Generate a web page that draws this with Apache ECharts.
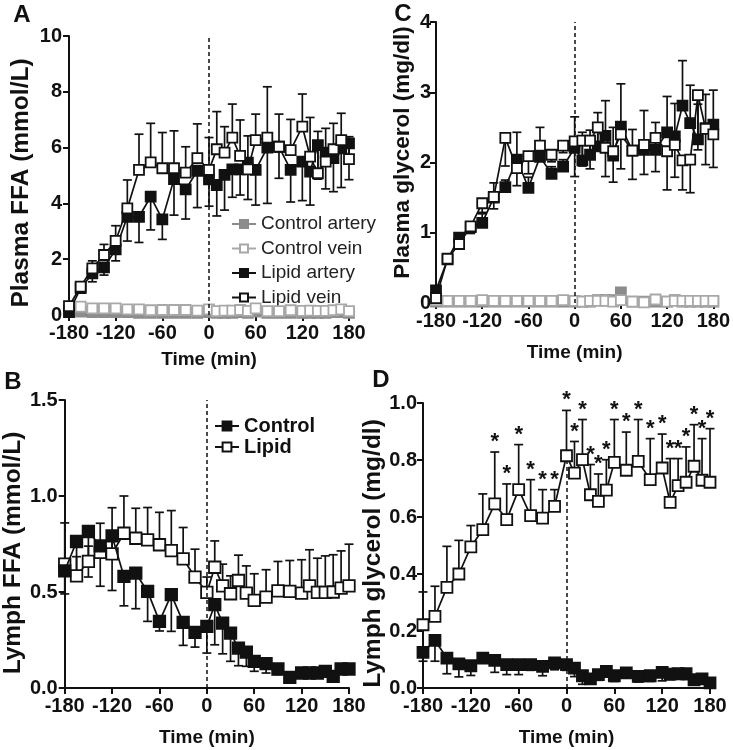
<!DOCTYPE html>
<html><head><meta charset="utf-8">
<script src="https://cdn.jsdelivr.net/npm/echarts@6/dist/echarts.min.js"></script>
<style>html,body{margin:0;padding:0;background:#fff}#c{width:733px;height:750px}</style>
</head><body><div id="c"></div>
<script>
// ---- data ----
const time = [-180,-165,-150,-135,-120,-105,-90,-75,-60,-45,-30,-15,0,10,20,30,40,50,60,75,90,105,120,130,140,150,160,170,180];
const xTicks = [-180,-120,-60,0,60,120,180];

// Panel A: Plasma FFA (mmol/L)
const aCtrlArtery = [0.1,0.12,0.1,0.1,0.1,0.1,0.08,0.08,0.08,0.08,0.08,0.08,0.1,0.08,0.08,0.08,0.1,0.08,0.12,0.08,0.08,0.08,0.08,0.08,0.08,0.08,0.1,0.1,0.08];
const aCtrlVein   = [0.18,0.3,0.24,0.24,0.24,0.2,0.2,0.17,0.18,0.18,0.18,0.16,0.2,0.14,0.16,0.16,0.18,0.15,0.24,0.14,0.14,0.17,0.15,0.16,0.15,0.15,0.17,0.2,0.14];
const aLipArtery  = [0.1,0.96,1.49,1.71,2.35,3.52,3.52,4.24,3.43,4.87,4.5,5.17,4.86,4.66,5.02,5.22,5.22,5.46,5.2,6.0,6.03,5.2,5.5,5.14,6.09,5.82,5.62,5.97,6.15];
const aLipArteryErr = [0,0.05,0.3,0.28,0.41,0.87,0.92,1.19,0.72,1.29,1.06,1.32,0.96,1.11,1.26,1.0,0.92,1.32,1.26,2.0,1.13,1.15,1.4,1.2,1.22,1.3,1.2,1.4,1.3];
const aLipVein    = [0.32,1.02,1.67,2.15,2.66,3.82,5.2,5.47,5.26,5.26,5.1,5.62,5.2,5.94,5.82,6.36,5.7,5.22,6.27,6.36,6.03,5.91,6.75,5.68,5.08,5.5,5.94,6.27,5.59];
const aLipVeinErr = [0.05,0.1,0.27,0.38,0.54,1.02,1.28,1.4,1.28,1.34,0.93,1.23,1.16,1.35,0.93,1.2,1.29,1.2,0.93,1.82,1.17,1.1,1.17,1.4,1.5,1.19,0.93,0.96,0.8];

// Panel C: Plasma glycerol (mg/dl)
const cCtrlArtery = [0.02,0.02,0.02,0.02,0.02,0.02,0.02,0.02,0.02,0.02,0.02,0.02,0.02,0.02,0.02,0.04,0.04,0.04,0.15,0.02,0.02,0.02,0.02,0.04,0.02,0.02,0.02,0.02,0.02];
const cCtrlVein   = [0.04,0.03,0.03,0.03,0.04,0.03,0.03,0.03,0.03,0.03,0.03,0.04,0.03,0.02,0.03,0.03,0.03,0.02,0.04,0.02,0.01,0.05,0.02,0.03,0.03,0.03,0.03,0.03,0.03];
const cLipArtery  = [0.18,0.62,0.93,1.08,1.14,1.5,1.65,2.04,1.64,2.08,1.84,1.94,2.21,2.03,2.11,2.23,2.38,2.1,2.51,2.17,2.18,2.18,2.43,2.37,2.81,2.56,2.33,2.49,2.54];
const cLipArteryErr = [0.05,0.05,0.05,0.07,0.15,0.21,0.1,0.39,0.15,0.42,0.1,0.1,0.44,0.4,0.35,0.48,0.5,0.4,0.61,0.3,0.56,0.39,0.51,0.47,0.64,0.54,0.5,0.48,0.49];
const cLipVein    = [0.07,0.63,0.84,1.09,1.42,1.51,2.35,1.92,2.09,2.24,2.11,2.24,2.3,2.31,2.31,2.5,2.21,2.16,2.4,2.17,2.25,2.35,2.16,2.25,2.03,2.04,2.96,2.48,2.4];
const cLipVeinErr = [0,0.05,0.05,0.1,0.15,0.17,0.4,0.25,0.25,0.2,0.1,0.1,0.5,0.36,0.4,0.3,0.41,0.44,0.49,0.41,0.42,0.48,0.55,0.46,0.42,0.47,0.78,0.51,0.47];

// Panel B: Lymph FFA (mmol/L)
const bControl    = [0.61,0.763,0.815,0.74,0.792,0.581,0.598,0.503,0.347,0.486,0.342,0.29,0.321,0.434,0.338,0.286,0.208,0.187,0.139,0.127,0.099,0.055,0.078,0.078,0.078,0.087,0.061,0.099,0.099];
const bControlErr = [0.12,0.18,0.237,0.21,0.284,0.153,0.185,0.156,0.05,0.191,0.12,0.077,0.139,0.209,0.16,0.147,0.092,0.074,0.052,0.049,0.029,0.01,0.01,0.01,0.01,0.015,0.01,0.01,0.01];
const bLipid      = [0.645,0.584,0.659,0.706,0.699,0.806,0.78,0.772,0.746,0.716,0.673,0.577,0.498,0.629,0.532,0.491,0.56,0.494,0.456,0.473,0.506,0.503,0.494,0.532,0.498,0.498,0.5,0.52,0.532];
const bLipidErr   = [0.215,0.1,0.08,0.152,0.24,0.194,0.156,0.168,0.169,0.208,0.163,0.146,0.08,0.137,0.113,0.093,0.132,0.142,0.139,0.143,0.153,0.161,0.174,0.188,0.178,0.19,0.194,0.194,0.217];

// Panel D: Lymph glycerol (mg/dl)
const dControl    = [0.125,0.167,0.105,0.085,0.078,0.105,0.097,0.082,0.082,0.082,0.076,0.088,0.082,0.07,0.043,0.032,0.047,0.058,0.043,0.053,0.041,0.043,0.055,0.049,0.05,0.05,0.029,0.032,0.018];
const dControlErr = [0.031,0.073,0.055,0.046,0.034,0.01,0.042,0.035,0.035,0.02,0.033,0.024,0.02,0.03,0.03,0.01,0.02,0.02,0.02,0.01,0.02,0.02,0.03,0.02,0.01,0.02,0.01,0.01,0.005];
const dLipid      = [0.222,0.251,0.353,0.4,0.495,0.556,0.646,0.591,0.696,0.605,0.596,0.637,0.815,0.754,0.801,0.678,0.655,0.694,0.792,0.764,0.795,0.731,0.772,0.651,0.71,0.722,0.778,0.729,0.722];
const dLipidErr   = [0.115,0.106,0.144,0.118,0.075,0.125,0.182,0.125,0.158,0.126,0.1,0.059,0.159,0.111,0.141,0.106,0.096,0.107,0.15,0.134,0.147,0.144,0.119,0.154,0.095,0.124,0.146,0.146,0.188];
const dStars      = [0,0,0,0,0,0,1,1,1,1,1,1,1,1,1,1,1,1,1,1,1,1,1,1,1,1,1,1,1];

const FONT = '"Liberation Sans", Arial, sans-serif';
const BLACK = '#111', GRAY_F = '#8c8c8c', GRAY_O = '#a8a8a8';

function pairs(vals){ return time.map((t,i)=>[t, vals[i]]); }

function lineSeries(name, idx, vals, filled, color, size, z, extra){
  return Object.assign({
    name, type:'line', xAxisIndex:idx, yAxisIndex:idx, data:pairs(vals),
    symbol:'rect', symbolSize:size, z, showSymbol:true, animation:false,
    lineStyle:{color, width:1.7},
    itemStyle:{color: filled ? color : '#fff', borderColor:color, borderWidth:1.8},
    emphasis:{disabled:true}
  }, extra || {});
}

function errSeries(idx, vals, errs, dir, z){
  return {
    type:'custom', xAxisIndex:idx, yAxisIndex:idx, z, silent:true, animation:false,
    data: time.map((t,i)=>[t, vals[i], errs[i]]),
    encode:{x:0, y:1},
    renderItem:(params, api)=>{
      const x=api.value(0), y=api.value(1), e=api.value(2);
      if(!e) return;
      const p0=api.coord([x,y]), p1=api.coord([x,y+dir*e]);
      const hw=4.5;
      return {type:'group', children:[
        {type:'line', shape:{x1:p0[0],y1:p0[1],x2:p1[0],y2:p1[1]}, style:{stroke:BLACK, lineWidth:1.7}},
        {type:'line', shape:{x1:p1[0]-hw,y1:p1[1],x2:p1[0]+hw,y2:p1[1]}, style:{stroke:BLACK, lineWidth:1.7}}
      ]};
    }
  };
}

function dashLine(data){
  return {silent:true, symbol:['none','none'], label:{show:false}, animation:false,
    lineStyle:{type:[4,3], color:BLACK, width:1.5}, emphasis:{disabled:true}, data};
}

const labelStyle = {fontSize:20, fontWeight:'bold', fontFamily:FONT, color:BLACK};

function xAx(idx, gap){
  return {type:'value', gridIndex:idx, min:-180, max:180, interval:60,
    name:'Time (min)', nameLocation:'middle', nameGap:gap,
    nameTextStyle:{fontSize:19, fontWeight:'bold', fontFamily:FONT, color:BLACK},
    axisLine:{onZero:false, lineStyle:{color:BLACK, width:2}},
    axisTick:{length:6, lineStyle:{color:BLACK, width:2}},
    axisLabel:Object.assign({margin:8}, labelStyle),
    splitLine:{show:false}};
}
function yAx(idx, max, interval, name, gap, margin, fs, pad, fmt){
  return {type:'value', gridIndex:idx, min:0, max, interval,
    name, nameLocation:'middle', nameGap:gap,
    nameTextStyle:{fontSize:fs, fontWeight:'bold', fontFamily:FONT, color:BLACK, padding:pad},
    axisLine:{show:true, onZero:false, lineStyle:{color:BLACK, width:2}},
    axisTick:{show:true, length:6, lineStyle:{color:BLACK, width:2}},
    axisLabel:Object.assign({margin, formatter:fmt}, labelStyle),
    splitLine:{show:false}};
}
const fmt1 = v => v.toFixed(1);

const chart = echarts.init(document.getElementById('c'));
chart.setOption({
  animation:false,
  backgroundColor:'#fff',
  grid:[
    {left:69, top:36, width:280, height:279},
    {left:436, top:22, width:282, height:281},
    {left:60, top:400, width:289, height:288},
    {left:423, top:403, width:287, height:285}
  ],
  xAxis:[xAx(0,35), xAx(1,40), xAx(2,40), xAx(3,40)],
  yAxis:[
    yAx(0,10,2,'Plasma FFA (mmol/L)',35,7,24.5,[0,15,0,0]),
    yAx(1,4,1,'Plasma glycerol (mg/dl)',22,5,22.5,[0,0,0,20]),
    yAx(2,1.5,0.5,'Lymph FFA (mmol/L)',36,7,24.5,[0,18,0,0],fmt1),
    yAx(3,1.0,0.2,'Lymph glycerol (mg/dl)',36,6,24.5,[0,16,0,0],fmt1)
  ],
  legend:[
    {data:['Control artery','Control vein','Lipid artery','Lipid vein'], orient:'vertical',
     left:226, top:209, itemWidth:24, itemHeight:10, itemGap:4.5, selectedMode:false,
     textStyle:{fontSize:19, fontFamily:FONT, color:'#222', lineHeight:20}},
    {data:['Control','Lipid'], orient:'vertical', left:209, top:411, itemWidth:24, itemHeight:11, itemGap:1, selectedMode:false,
     textStyle:{fontSize:20, fontWeight:'bold', fontFamily:FONT, color:BLACK, lineHeight:20}}
  ],
  graphic:[
    {type:'text', x:22, y:15, style:{text:'A', font:'bold 24px "Liberation Sans"', fill:BLACK, align:'center', verticalAlign:'middle'}},
    {type:'text', x:403, y:14, style:{text:'C', font:'bold 24px "Liberation Sans"', fill:BLACK, align:'center', verticalAlign:'middle'}},
    {type:'text', x:13, y:382, style:{text:'B', font:'bold 24px "Liberation Sans"', fill:BLACK, align:'center', verticalAlign:'middle'}},
    {type:'text', x:381, y:380, style:{text:'D', font:'bold 24px "Liberation Sans"', fill:BLACK, align:'center', verticalAlign:'middle'}}
  ],
  series:[
    // A
    errSeries(0, aLipArtery, aLipArteryErr, -1, 2),
    errSeries(0, aLipVein, aLipVeinErr, 1, 2),
    lineSeries('Control artery', 0, aCtrlArtery, true, GRAY_F, 10, 3),
    lineSeries('Control vein', 0, aCtrlVein, false, GRAY_O, 10, 4),
    lineSeries('Lipid artery', 0, aLipArtery, true, BLACK, 10, 5),
    lineSeries('Lipid vein', 0, aLipVein, false, BLACK, 10, 6, {markLine:dashLine([{xAxis:0}])}),
    // C
    errSeries(1, cLipArtery, cLipArteryErr, 1, 2),
    errSeries(1, cLipVein, cLipVeinErr, -1, 2),
    lineSeries('C control artery', 1, cCtrlArtery, true, GRAY_F, 10, 3),
    lineSeries('C control vein', 1, cCtrlVein, false, GRAY_O, 10, 4),
    lineSeries('C lipid artery', 1, cLipArtery, true, BLACK, 10, 5),
    lineSeries('C lipid vein', 1, cLipVein, false, BLACK, 10, 6, {markLine:dashLine([{xAxis:0}])}),
    // B
    errSeries(2, bControl, bControlErr, -1, 2),
    errSeries(2, bLipid, bLipidErr, 1, 2),
    lineSeries('Lipid', 2, bLipid, false, BLACK, 11.5, 4),
    lineSeries('Control', 2, bControl, true, BLACK, 11.5, 5, {markLine:dashLine([{xAxis:0}])}),
    // D
    errSeries(3, dControl, dControlErr, -1, 2),
    errSeries(3, dLipid, dLipidErr, 1, 2),
    lineSeries('D control', 3, dControl, true, BLACK, 11, 4),
    lineSeries('D lipid', 3, dLipid, false, BLACK, 11, 5, {markLine:dashLine([[{coord:[0,0]},{coord:[0,0.8]}]])}),
    {type:'custom', xAxisIndex:3, yAxisIndex:3, z:6, silent:true, animation:false,
     data: time.map((t,i)=>[t, dLipid[i]+dLipidErr[i], dStars[i]]),
     encode:{x:0, y:1},
     renderItem:(params, api)=>{
       if(!api.value(2)) return;
       const c = api.coord([api.value(0), api.value(1)]);
       return {type:'text', x:c[0], y:c[1]+1,
         style:{text:'*', font:'bold 22px "Liberation Sans"', fill:BLACK, align:'center', verticalAlign:'bottom'}};
     }}
  ]
});
</script>
</body></html>
